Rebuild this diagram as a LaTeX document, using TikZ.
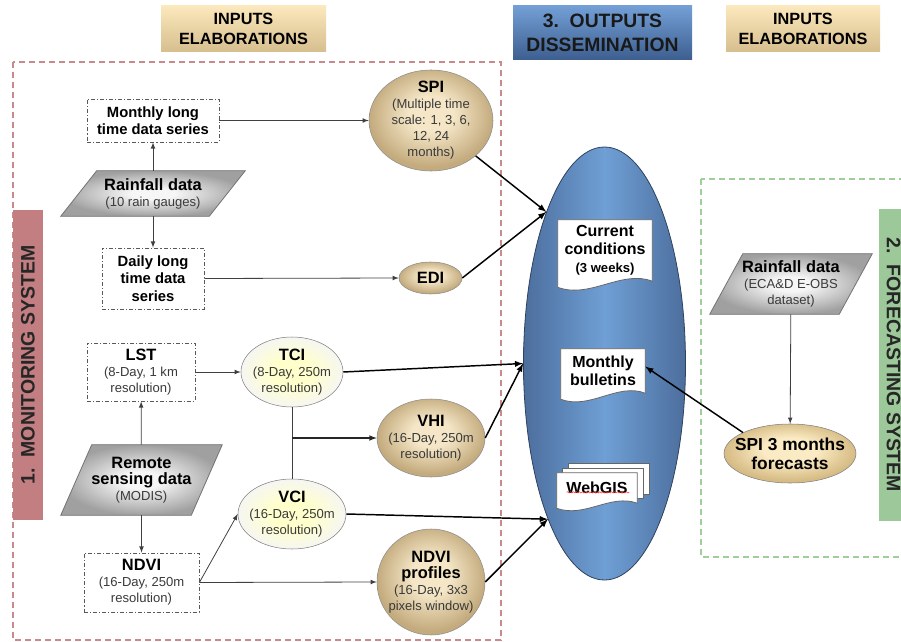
\documentclass[tikz,border=0pt]{standalone}
\usepackage{fontspec}
\setmainfont{Liberation Sans}
\usetikzlibrary{shapes.geometric,decorations.pathmorphing}
\pgfdeclarelayer{bg}
\pgfsetlayers{bg,main}
\definecolor{tanL}{HTML}{F4E6C6}
\definecolor{tanD}{HTML}{C4AB7E}
\definecolor{fcL}{HTML}{FBEBC4}
\definecolor{fcD}{HTML}{D6BB84}
\definecolor{ywL}{HTML}{FFFFCC}
\definecolor{ywD}{HTML}{F6F6F2}
\definecolor{gyL}{HTML}{F6F6F6}
\definecolor{gyD}{HTML}{A0A0A0}
\definecolor{hdL}{HTML}{FBE8BC}
\definecolor{hdD}{HTML}{D6BE8E}
\definecolor{blL}{HTML}{739FD6}
\definecolor{blD}{HTML}{3D5E8F}
\definecolor{dsE}{HTML}{4C6E9D}
\definecolor{dsM}{HTML}{6F9FD5}
\definecolor{monred}{HTML}{C27E81}
\definecolor{fcgreen}{HTML}{9DC99A}
\definecolor{frred}{HTML}{C98A8C}
\definecolor{frgreen}{HTML}{9FCE9B}
\definecolor{subgray}{HTML}{3A3A3A}
\pgfdeclareradialshading{tanglow}{\pgfpoint{0bp}{4bp}}{color(0bp)=(tanL); color(9bp)=(tanL); color(25bp)=(tanD); color(50bp)=(tanD)}
\pgfdeclareradialshading{fcglow}{\pgfpoint{0bp}{4bp}}{color(0bp)=(fcL); color(10bp)=(fcL); color(25bp)=(fcD); color(50bp)=(fcD)}
\pgfdeclareradialshading{ywglow}{\pgfpoint{0bp}{0bp}}{color(0bp)=(ywL); color(10bp)=(ywL); color(25bp)=(ywD); color(50bp)=(ywD)}
\pgfdeclareradialshading{gyglow}{\pgfpoint{0bp}{0bp}}{color(0bp)=(gyL); color(6bp)=(gyL); color(25bp)=(gyD); color(50bp)=(gyD)}
\newcommand{\nodehead}[1]{{\fontsize{12.3pt}{13.5pt}\selectfont\bfseries\color{black}#1}}

\begin{document}
\begin{tikzpicture}[x=0.75pt,y=0.75pt]
		\tikzstyle{every node}+=[inner sep=0pt]
		\tikzstyle{sub}=[align=center, font=\fontsize{9.8pt}{12pt}\selectfont, text=subgray]
		\tikzstyle{dbox}=[sub, draw=black!65, line width=0.6pt, dash pattern=on 3pt off 1.5pt on 0.8pt off 1.5pt, fill=white]
		\tikzstyle{tanell}=[sub, ellipse, inner sep=-4pt, draw=black!45, shade, shading=tanglow]
		\tikzstyle{yell}=[sub, ellipse, inner sep=-4pt, draw=black!50, shade, shading=ywglow]
		\tikzstyle{fcell}=[ellipse, inner sep=-8pt, align=center, draw=black!50, shade, shading=fcglow, font=\fontsize{13pt}{14.5pt}\selectfont\bfseries]
		\tikzstyle{txt}=[sub]
		\tikzstyle{para}=[draw=black!55, line width=0.6pt, shade, shading=gyglow]
		\tikzstyle{doctxt}=[align=center, font=\fontsize{12pt}{13.5pt}\selectfont\bfseries]
		\tikzstyle{doc}=[draw=black!60, line width=0.6pt, fill=white]
		\tikzstyle{hdr}=[align=center, font=\fontsize{12.2pt}{15pt}\selectfont\bfseries, top color=hdL, bottom color=hdD]
		\tikzstyle{hdrblue}=[align=center, font=\fontsize{14.5pt}{18pt}\selectfont\bfseries, text=black!90, top color=blL, bottom color=blD]
		\tikzstyle{monbar}=[fill=monred, rotate=90, minimum width=232.5pt, minimum height=22.5pt, font=\fontsize{14.6pt}{16pt}\selectfont\bfseries, text=black!85]
		\tikzstyle{fcbar}=[fill=fcgreen, rotate=-90, minimum width=234pt, minimum height=21.75pt, font=\fontsize{14.6pt}{16pt}\selectfont\bfseries, text=black!85]
		\tikzstyle{thinarrow}=[draw=black!75, line width=0.6pt, -latex]
		\tikzstyle{midarrow}=[draw=black!85, line width=0.9pt, -latex]
		\tikzstyle{thickarrow}=[draw=black, line width=1.1pt, -latex]
		\tikzstyle{link}=[draw=black!75, line width=0.6pt]
		\useasboundingbox (0,0) rectangle (901,-642);
		\clip (0,0) rectangle (901,-642);
		% frames
		\draw [frred, line width=0.9pt, dash pattern=on 4.5pt off 3pt] (13,-62) rectangle (501,-640);
		\draw [frgreen, line width=0.9pt, dash pattern=on 4.5pt off 3pt] (701,-179) rectangle (930,-557);
		% headers
		\node [hdr, minimum width=123.75pt, minimum height=34.5pt] (inl) at (243.5,-29) {INPUTS\\ELABORATIONS};
		\node [hdrblue, minimum width=134.25pt, minimum height=40.5pt] (outd) at (602.5,-33) {3.\ \ OUTPUTS\\DISSEMINATION};
		\node [hdr, minimum width=115.5pt, minimum height=34.5pt] (inr) at (803,-29) {INPUTS\\ELABORATIONS};
		\node [monbar] (mon) at (28,-365) {1.\ \ MONITORING SYSTEM};
		\node [fcbar] (fcs) at (893.5,-365) {2.\ \ FORECASTING SYSTEM};
		% monitoring system
		\node [dbox, font=\fontsize{11.1pt}{12.75pt}\selectfont\bfseries, text=black, minimum width=99pt, minimum height=32.25pt] (mly) at (153,-120.5) {Monthly long\\time data series};
		\node [txt, minimum width=111pt, minimum height=33.75pt] (rain) at (153,-193.5) {\nodehead{Rainfall data}\\(10 rain gauges)};
		\node [dbox, font=\fontsize{11.1pt}{13pt}\selectfont\bfseries, text=black, minimum width=76.5pt, minimum height=45.75pt] (dly) at (153,-278.5) {Daily long\\time data\\series};
		\node [tanell, minimum width=93pt, minimum height=75.75pt] (spi) at (431,-120.5) {\nodehead{SPI}\\(Multiple time\\scale: 1, 3, 6,\\12, 24\\months)};
		\node [tanell, minimum width=47.25pt, minimum height=24pt] (edi) at (430.5,-278) {\nodehead{EDI}};
		\node [dbox, minimum width=81pt, minimum height=43.5pt] (lst) at (141,-372) {\nodehead{LST}\\(8-Day, 1 km\\resolution)};
		\node [yell, minimum width=76.5pt, minimum height=52.5pt] (tci) at (292,-372) {\nodehead{TCI}\\(8-Day, 250m\\resolution)};
		\node [tanell, minimum width=81pt, minimum height=58.5pt] (vhi) at (431,-438) {\nodehead{VHI}\\(16-Day, 250m\\resolution)};
		\node [txt, minimum width=97.5pt, minimum height=52.5pt] (rs) at (141.5,-480) {\nodehead{Remote}\\\nodehead{sensing data}\\(MODIS)};
		\node [yell, minimum width=81pt, minimum height=52.5pt] (vci) at (292,-514) {\nodehead{VCI}\\(16-Day, 250m\\resolution)};
		\node [dbox, minimum width=86.25pt, minimum height=44.25pt] (ndvi) at (141.5,-582.5) {\nodehead{NDVI}\\(16-Day, 250m\\resolution)};
		\node [tanell, minimum width=81pt, minimum height=79.5pt] (ndvip) at (431,-582) {\nodehead{NDVI}\\\nodehead{profiles}\\(16-Day, 3x3\\pixels window)};
		% outputs dissemination
		\begin{pgfonlayer}{bg}
			\node [ellipse, draw=dsE!60!black, line width=0.6pt, left color=dsE, right color=dsE, middle color=dsM, minimum width=121.5pt, minimum height=324.75pt] (dis) at (604.5,-363.5) {};
		\end{pgfonlayer}
		\node [doctxt, minimum width=70.5pt, minimum height=45.75pt] (cur) at (605,-250.5) {Current\\conditions\\{\fontsize{9.8pt}{12pt}\selectfont (3 weeks)}};
		\node [doctxt, minimum width=63pt, minimum height=33pt] (bul) at (603,-371) {Monthly\\bulletins};
		\node [doctxt, minimum width=60pt, minimum height=22.5pt] (web) at (597,-488) {WebGIS};
		% forecasting system
		\node [txt, minimum width=96.75pt, minimum height=45pt] (rainr) at (791,-284) {\nodehead{Rainfall data}\\(ECA\&D E-OBS\\dataset)};
		\node [fcell, minimum width=99pt, minimum height=44.25pt] (spif) at (790,-453.5) {SPI 3 months\\forecasts};
		% shapes behind the texts
		\begin{pgfonlayer}{bg}
			\filldraw [doc] (cur.north west) -- (cur.north east) -- (cur.south east) .. controls +(-30,12) and +(32,-12) .. ([yshift=-4.5pt]cur.south west) -- cycle;
			\filldraw [doc] (bul.north west) -- (bul.north east) -- (bul.south east) .. controls +(-27,11) and +(29,-11) .. ([yshift=-4.5pt]bul.south west) -- cycle;
			\filldraw [doc] ([xshift=9pt,yshift=6.75pt]web.north west) rectangle ([xshift=9pt,yshift=6.75pt]web.south east);
			\filldraw [doc] ([xshift=4.5pt,yshift=3.4pt]web.north west) rectangle ([xshift=4.5pt,yshift=3.4pt]web.south east);
			\filldraw [doc] (web.north west) -- (web.north east) -- (web.south east) .. controls +(-26,10) and +(28,-10) .. ([yshift=-3.8pt]web.south west) -- cycle;
			\path [para] ([xshift=13.5pt]rain.north west) -- ([xshift=13.5pt]rain.north east) -- ([xshift=-13.5pt]rain.south east) -- ([xshift=-13.5pt]rain.south west) -- cycle;
			\path [para] ([xshift=11.6pt]rs.north west) -- ([xshift=11.6pt]rs.north east) -- ([xshift=-11.6pt]rs.south east) -- ([xshift=-11.6pt]rs.south west) -- cycle;
			\path [para] ([xshift=12.4pt]rainr.north west) -- ([xshift=12.4pt]rainr.north east) -- ([xshift=-12.4pt]rainr.south east) -- ([xshift=-12.4pt]rainr.south west) -- cycle;
		\end{pgfonlayer}
		\draw [red!80, line width=0.4pt, decorate, decoration={snake, amplitude=0.5pt, segment length=2.2pt}] ([xshift=7.5pt,yshift=8.2pt]web.south west) -- ([xshift=-6pt,yshift=8.2pt]web.south east);
		% connectors
		\draw [thinarrow] (rain) -- (mly);
		\draw [thinarrow] (rain) -- (dly);
		\draw [thinarrow] (mly) -- (spi);
		\draw [thinarrow] (dly.east) -- (edi.west);
		\draw [thinarrow] (rs) -- (lst);
		\draw [thinarrow] (rs) -- (ndvi);
		\draw [thinarrow] (lst) -- (tci);
		\draw [thinarrow] (ndvi.east) -- (vci.west);
		\draw [thinarrow] (ndvi.east) -- (ndvip.west);
		\draw [link] (tci) -- (vci);
		\draw [midarrow] (tci.south |- vhi.west) -- (vhi.west);
		\draw [thickarrow] (spi) -- (dis.111);
		\draw [thickarrow] (edi.east) -- (dis.111);
		\draw [thickarrow] (tci.east) -- (dis.180);
		\draw [thickarrow] (vhi.east) -- (dis.180);
		\draw [thickarrow] (vci.east) -- (dis.250);
		\draw [thickarrow] (ndvip.east) -- (dis.250);
		\draw [thinarrow] (rainr) -- (spif);
		\draw [thickarrow] (spif.156) -- (bul.6);
	\end{tikzpicture}
\end{document}
